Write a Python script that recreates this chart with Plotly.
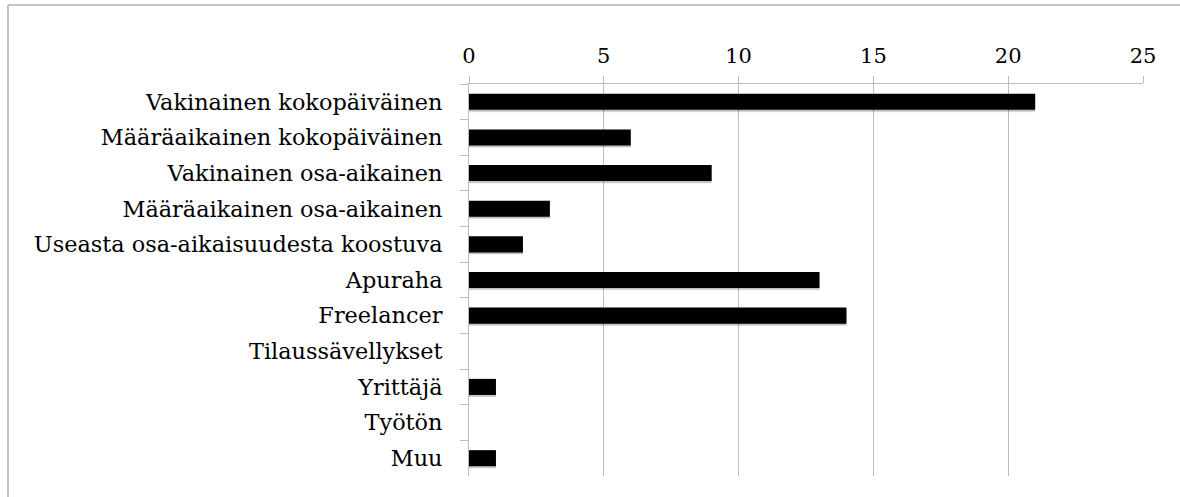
import plotly.graph_objects as go

# Työsuhteen muoto -> vastaajien määrä
categories = [
    "Vakinainen kokopäiväinen",
    "Määräaikainen kokopäiväinen",
    "Vakinainen osa-aikainen",
    "Määräaikainen osa-aikainen",
    "Useasta osa-aikaisuudesta koostuva",
    "Apuraha",
    "Freelancer",
    "Tilaussävellykset",
    "Yrittäjä",
    "Työtön",
    "Muu",
]
counts = [21, 6, 9, 3, 2, 13, 14, 0, 1, 0, 1]
x_ticks = [0, 5, 10, 15, 20, 25]

W, H = 1180, 497
ML, MR, MT, MB = 469, 37, 84, 21
grid = "#bdbdbd"
font = "DejaVu Serif"

fig = go.Figure()

# pehmeä varjo palkkien alle
fig.add_trace(go.Bar(
    y=categories, x=counts, orientation="h",
    width=0.5, offset=-0.21,
    marker=dict(color="rgba(0,0,0,0.10)", line=dict(width=0)),
    hoverinfo="skip", showlegend=False,
))
fig.add_trace(go.Bar(
    y=categories, x=counts, orientation="h",
    width=0.47, offset=-0.2,
    marker=dict(color="rgba(0,0,0,0.16)", line=dict(width=0)),
    hoverinfo="skip", showlegend=False,
))
fig.add_trace(go.Bar(
    y=categories, x=counts, orientation="h",
    width=0.45, offset=-0.225,
    marker=dict(color="black", line=dict(width=0)),
    showlegend=False,
))

fig.update_layout(
    width=W, height=H,
    margin=dict(l=ML, r=MR, t=MT, b=MB, pad=0),
    barmode="overlay",
    plot_bgcolor="white", paper_bgcolor="white",
    font=dict(family=font, size=22, color="black"),
)

fig.update_xaxes(
    side="top", range=[0, 25], tickvals=x_ticks,
    showgrid=True, gridcolor=grid, gridwidth=1,
    showline=True, linecolor=grid, linewidth=1,
    ticks="outside", ticklen=7, tickcolor=grid,
    ticklabelstandoff=5,
    zeroline=False,
    tickfont=dict(family=font, size=21),
)
fig.update_yaxes(
    type="category", autorange="reversed",
    tickson="boundaries", ticks="outside", ticklen=8, tickcolor=grid,
    showline=True, linecolor=grid, linewidth=1,
    showgrid=False,
    ticklabelstandoff=21,
    tickfont=dict(family=font, size=22.4),
)

# kehys vasemmalla ja ylhäällä
pw, ph = W - ML - MR, H - MT - MB
x0 = (8 - ML) / pw
y_top = 1 + (MT - 5) / ph
y_bot = -MB / ph
x_right = 1 + MR / pw
fig.add_shape(type="line", xref="paper", yref="paper",
              x0=x0, x1=x0, y0=y_bot, y1=y_top,
              line=dict(color="#c4c4c4", width=2))
fig.add_shape(type="line", xref="paper", yref="paper",
              x0=x0, x1=x_right, y0=y_top, y1=y_top,
              line=dict(color="#c4c4c4", width=2))

fig.write_html("out.html", config={"displayModeBar": False},
               post_script="document.body.style.margin='0';")
